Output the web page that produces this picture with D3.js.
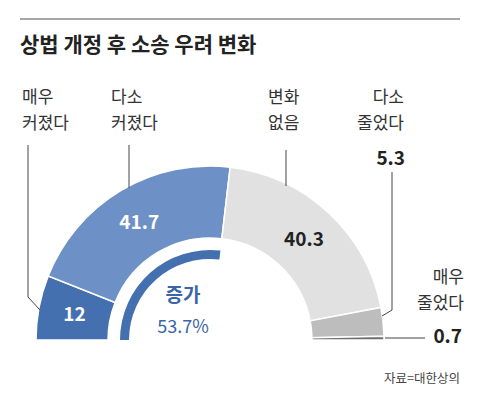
<!DOCTYPE html>
<html><head><meta charset="utf-8">
<script src="https://cdn.jsdelivr.net/npm/d3@7"></script>
<style>body{margin:0;background:#fff}text{font-family:"Noto Sans CJK KR",sans-serif}</style>
</head><body>
<script>
// 데이터
const categories = ['매우 커졌다', '다소 커졌다', '변화 없음', '다소 줄었다', '매우 줄었다']
const values = [12, 41.7, 40.3, 5.3, 0.7]
const colors = ['#4470b0', '#6d90c6', '#e1e1e1', '#bdbdbd', '#6e6e6e']
const increase = 53.7

const W = 480, H = 410
const cx = 210, cy = 340
const rOut = 174, rIn = 102

const svg = d3.select('body').append('svg').attr('width', W).attr('height', H)

// 제목
svg.append('line').attr('x1', 20).attr('x2', 460).attr('y1', 19).attr('y2', 19)
  .attr('stroke', '#888').attr('stroke-width', 1.5)
svg.append('text').attr('x', 20).attr('y', 52).text('상법 개정 후 소송 우려 변화')
  .attr('font-size', 21).attr('font-weight', 'bold').attr('fill', '#222')

// 반원 도넛
const pie = d3.pie().sort(null).startAngle(-Math.PI / 2).endAngle(Math.PI / 2)
const arcs = pie(values)
const arc = d3.arc().innerRadius(rIn).outerRadius(rOut)
const g = svg.append('g').attr('transform', 'translate(' + cx + ',' + cy + ')')
g.selectAll('path.seg').data(arcs).enter().append('path')
  .attr('class', 'seg')
  .attr('d', arc)
  .attr('fill', (d, i) => colors[i])
  .attr('stroke', '#fff').attr('stroke-width', 1.5)

// 증가 호
const angle = d3.scaleLinear().domain([0, 100]).range([-Math.PI / 2, Math.PI / 2])
g.append('path')
  .attr('d', d3.arc().innerRadius(81).outerRadius(90)
    .startAngle(angle(0)).endAngle(angle(increase))())
  .attr('fill', '#4470b0')

// 값 라벨
const mid = d3.arc().innerRadius((rIn + rOut) / 2).outerRadius((rIn + rOut) / 2)
const valFill = ['#fff', '#fff', '#222']
for (let i = 0; i < 3; i++) {
  const c = mid.centroid(arcs[i])
  g.append('text').attr('x', c[0]).attr('y', c[1] + 7).attr('text-anchor', 'middle')
    .attr('font-size', 19).attr('font-weight', 'bold').attr('fill', valFill[i])
    .text(values[i])
}
svg.append('text').attr('x', 183).attr('y', 302).attr('text-anchor', 'middle')
  .attr('font-size', 19).attr('font-weight', 'bold').attr('fill', '#3a65a8').text('증가')
svg.append('text').attr('x', 183).attr('y', 333).attr('text-anchor', 'middle')
  .attr('font-size', 18).attr('fill', '#3a65a8').text(increase + '%')

// 범주 라벨
function label(x, y, lines, anchor) {
  const t = svg.append('text').attr('x', x).attr('y', y).attr('text-anchor', anchor)
    .attr('font-size', 17).attr('fill', '#333')
  lines.forEach((s, k) => t.append('tspan').attr('x', x).attr('dy', k ? 26 : 0).text(s))
}
const split = s => s.split(' ')
label(22, 103, split(categories[0]), 'start')
label(111, 103, split(categories[1]), 'start')
label(268, 103, split(categories[2]), 'start')
label(404, 103, split(categories[3]), 'end')
label(464, 283, split(categories[4]), 'end')
svg.append('text').attr('x', 405).attr('y', 165).attr('text-anchor', 'end')
  .attr('font-size', 19).attr('font-weight', 'bold').attr('fill', '#222').text(values[3])
svg.append('text').attr('x', 462).attr('y', 343).attr('text-anchor', 'end')
  .attr('font-size', 19).attr('font-weight', 'bold').attr('fill', '#222').text(values[4])

// 지시선
const leader = [
  [[28, 145], [28, 297], [40, 310]],
  [[129, 145], [129, 188]],
  [[286, 150], [286, 186]],
  [[392, 172], [392, 310], [382, 316]],
  [[385, 338], [425, 338]]
]
leader.forEach(p => svg.append('path').attr('d', d3.line()(p))
  .attr('fill', 'none').attr('stroke', '#444').attr('stroke-width', 1))

svg.append('text').attr('x', 460).attr('y', 383).attr('text-anchor', 'end')
  .attr('font-size', 12.5).attr('fill', '#444').text('자료=대한상의')
</script>
</body></html>
